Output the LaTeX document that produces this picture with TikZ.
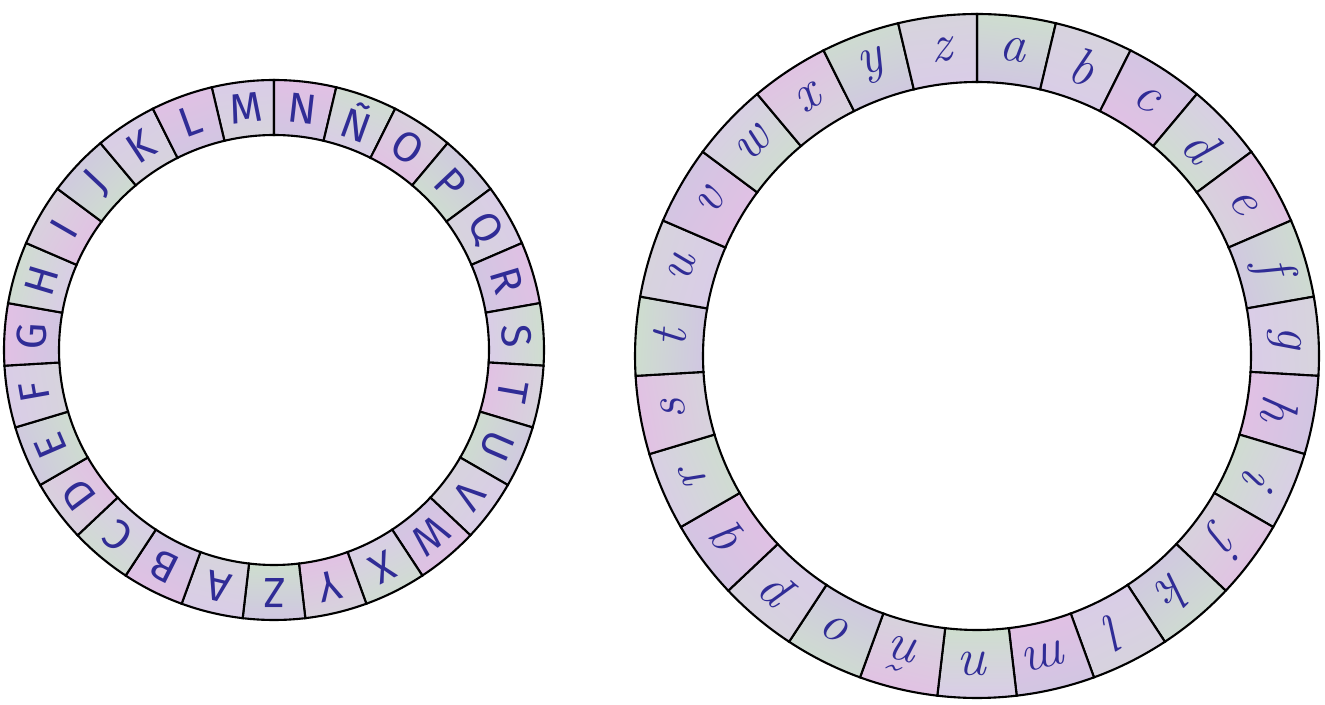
\documentclass[tikz,border=0pt]{standalone}
\usepackage{fontspec}
\setsansfont{Fira Sans}
\usepackage{xcolor}
\usetikzlibrary{calc}

\definecolor{ink}{RGB}{48,44,150}
\definecolor{pastel0}{RGB}{218,204,232}
\definecolor{pastel1}{RGB}{226,192,228}
\definecolor{pastel2}{RGB}{206,222,206}
\definecolor{pastel3}{RGB}{214,212,220}
\definecolor{pastel4}{RGB}{208,198,226}
\definecolor{pastel5}{RGB}{218,204,232}

\begin{document}
\begin{tikzpicture}[
  seg/.style={draw=black,line width=0.6pt},
  capletter/.style={text=ink,font=\fontsize{12}{14}\selectfont\sffamily},
  lowletter/.style={text=ink,font=\fontsize{15}{17}\selectfont\itshape}
]
\useasboundingbox (0,0) rectangle (13.25,7.04);
\coordinate (lc) at (2.74,3.54);
\coordinate (rc) at (9.77,3.48);

% left ring, capitals
\foreach \ch [count=\i from 0] in {M,N,Ñ,O,P,Q,R,S,T,U,V,W,X,Y,Z,A,B,C,D,E,F,G,H,I,J,K,L} {
  \pgfmathsetmacro\sa{90+360/27-\i*360/27}
  \pgfmathsetmacro\ea{\sa-360/27}
  \pgfmathsetmacro\ma{\sa-180/27}
  \pgfmathtruncatemacro\k{mod(\i,5)}
  \pgfmathtruncatemacro\kk{mod(\i+3,5)}
  \shade[top color=pastel\k,bottom color=pastel\kk,shading angle=\ma-90]
    ($(lc)+(\sa:2.70)$) arc[start angle=\sa,end angle=\ea,radius=2.70]
    -- ($(lc)+(\ea:2.15)$) arc[start angle=\ea,end angle=\sa,radius=2.15] -- cycle;
  \draw[seg] ($(lc)+(\sa:2.70)$) arc[start angle=\sa,end angle=\ea,radius=2.70]
    -- ($(lc)+(\ea:2.15)$) arc[start angle=\ea,end angle=\sa,radius=2.15] -- cycle;
  \node[capletter,rotate=\ma-90] (cap\i) at ($(lc)+(\ma:2.43)$) {\ch};
}

% right ring, small letters
\foreach \ch [count=\i from 0] in {a,b,c,d,e,f,g,h,i,j,k,l,m,n,ñ,o,p,q,r,s,t,u,v,w,x,y,z} {
  \pgfmathsetmacro\sa{90-\i*360/27}
  \pgfmathsetmacro\ea{\sa-360/27}
  \pgfmathsetmacro\ma{\sa-180/27}
  \pgfmathtruncatemacro\k{mod(\i+2,5)}
  \pgfmathtruncatemacro\kk{mod(\i+4,5)}
  \shade[top color=pastel\k,bottom color=pastel\kk,shading angle=\ma-90]
    ($(rc)+(\sa:3.42)$) arc[start angle=\sa,end angle=\ea,radius=3.42]
    -- ($(rc)+(\ea:2.74)$) arc[start angle=\ea,end angle=\sa,radius=2.74] -- cycle;
  \draw[seg] ($(rc)+(\sa:3.42)$) arc[start angle=\sa,end angle=\ea,radius=3.42]
    -- ($(rc)+(\ea:2.74)$) arc[start angle=\ea,end angle=\sa,radius=2.74] -- cycle;
  \node[lowletter,rotate=\ma-90] (low\i) at ($(rc)+(\ma:3.08)$) {\ch};
}
\end{tikzpicture}
\end{document}
